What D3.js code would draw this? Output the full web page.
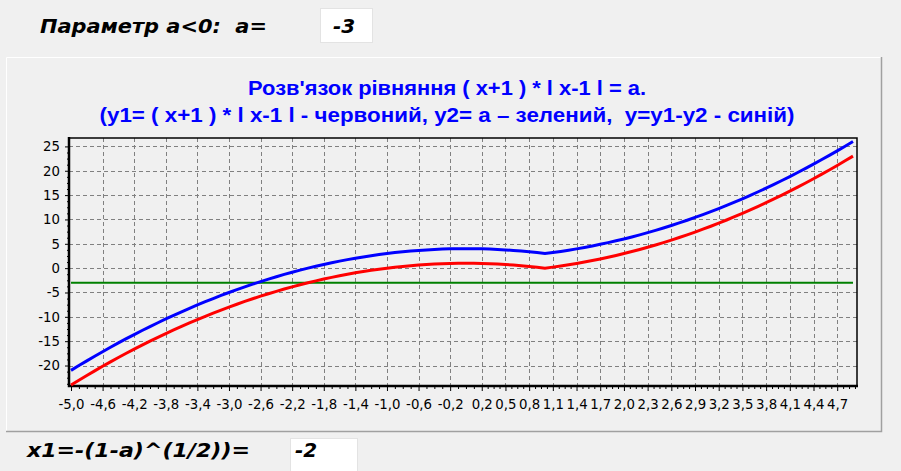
<!DOCTYPE html>
<html>
<head>
<meta charset="utf-8">
<script src="https://cdn.jsdelivr.net/npm/d3@7"></script>
<style>
  body { margin: 0; background: #f0f0f0; }
  svg { display: block; }
  text { white-space: pre; }
  .tick text { font-family: "DejaVu Sans", Verdana, sans-serif; font-size: 13.3px; fill: #000; }
</style>
</head>
<body>
<div id="chart"></div>
<script>
// parametre a et racine affichee
const paramA = -3;
const rootX1 = -2;

// points x (pas de 0,1)
const xValues = [
  -5.0, -4.9, -4.8, -4.7, -4.6, -4.5, -4.4, -4.3, -4.2, -4.1,
  -4.0, -3.9, -3.8, -3.7, -3.6, -3.5, -3.4, -3.3, -3.2, -3.1,
  -3.0, -2.9, -2.8, -2.7, -2.6, -2.5, -2.4, -2.3, -2.2, -2.1,
  -2.0, -1.9, -1.8, -1.7, -1.6, -1.5, -1.4, -1.3, -1.2, -1.1,
  -1.0, -0.9, -0.8, -0.7, -0.6, -0.5, -0.4, -0.3, -0.2, -0.1,
  0.0, 0.1, 0.2, 0.3, 0.4, 0.5, 0.6, 0.7, 0.8, 0.9,
  1.0, 1.1, 1.2, 1.3, 1.4, 1.5, 1.6, 1.7, 1.8, 1.9,
  2.0, 2.1, 2.2, 2.3, 2.4, 2.5, 2.6, 2.7, 2.8, 2.9,
  3.0, 3.1, 3.2, 3.3, 3.4, 3.5, 3.6, 3.7, 3.8, 3.9,
  4.0, 4.1, 4.2, 4.3, 4.4, 4.5, 4.6, 4.7, 4.8, 4.9
];

// y1 = (x+1)*|x-1|  (rouge)
const redValues = [
  -24, -23.01, -22.04, -21.09, -20.16, -19.25, -18.36, -17.49, -16.64, -15.81,
  -15, -14.21, -13.44, -12.69, -11.96, -11.25, -10.56, -9.89, -9.24, -8.61,
  -8, -7.41, -6.84, -6.29, -5.76, -5.25, -4.76, -4.29, -3.84, -3.41,
  -3, -2.61, -2.24, -1.89, -1.56, -1.25, -0.96, -0.69, -0.44, -0.21,
  0, 0.19, 0.36, 0.51, 0.64, 0.75, 0.84, 0.91, 0.96, 0.99,
  1, 0.99, 0.96, 0.91, 0.84, 0.75, 0.64, 0.51, 0.36, 0.19,
  0, 0.21, 0.44, 0.69, 0.96, 1.25, 1.56, 1.89, 2.24, 2.61,
  3, 3.41, 3.84, 4.29, 4.76, 5.25, 5.76, 6.29, 6.84, 7.41,
  8, 8.61, 9.24, 9.89, 10.56, 11.25, 11.96, 12.69, 13.44, 14.21,
  15, 15.81, 16.64, 17.49, 18.36, 19.25, 20.16, 21.09, 22.04, 23.01
];

// y = y1 - y2  (bleu)
const blueValues = [
  -21, -20.01, -19.04, -18.09, -17.16, -16.25, -15.36, -14.49, -13.64, -12.81,
  -12, -11.21, -10.44, -9.69, -8.96, -8.25, -7.56, -6.89, -6.24, -5.61,
  -5, -4.41, -3.84, -3.29, -2.76, -2.25, -1.76, -1.29, -0.84, -0.41,
  0, 0.39, 0.76, 1.11, 1.44, 1.75, 2.04, 2.31, 2.56, 2.79,
  3, 3.19, 3.36, 3.51, 3.64, 3.75, 3.84, 3.91, 3.96, 3.99,
  4, 3.99, 3.96, 3.91, 3.84, 3.75, 3.64, 3.51, 3.36, 3.19,
  3, 3.21, 3.44, 3.69, 3.96, 4.25, 4.56, 4.89, 5.24, 5.61,
  6, 6.41, 6.84, 7.29, 7.76, 8.25, 8.76, 9.29, 9.84, 10.41,
  11, 11.61, 12.24, 12.89, 13.56, 14.25, 14.96, 15.69, 16.44, 17.21,
  18, 18.81, 19.64, 20.49, 21.36, 22.25, 23.16, 24.09, 25.04, 26.01
];

// etiquettes de l'axe x
const xTickLabels = [
  "-5,0", "-4,6", "-4,2", "-3,8", "-3,4", "-3,0", "-2,6", "-2,2", "-1,8", "-1,4",
  "-1,0", "-0,6", "-0,2", "0,2", "0,5", "0,8", "1,1", "1,4", "1,7", "2,0",
  "2,3", "2,6", "2,9", "3,2", "3,5", "3,8", "4,1", "4,4", "4,7"
];
const yTickValues = [-20, -15, -10, -5, 0, 5, 10, 15, 20, 25];

const titleLines = [
  "Розв'язок рівняння ( x+1 ) * l x-1 l = a.",
  "(y1= ( x+1 ) * l x-1 l - червоний, y2= a – зелений,  y=y1-y2 - синій)"
];

const W = 901, H = 471;
const plot = { left: 69, right: 857, top: 138, bottom: 386 };

const svg = d3.select("#chart").append("svg")
  .attr("width", W).attr("height", H);

// fond
svg.append("rect").attr("width", W).attr("height", H).attr("fill", "#f0f0f0");

// panneau du graphique
svg.append("path").attr("d", "M6.5,432 V57.5 H882").attr("fill", "none").attr("stroke", "#ffffff");
svg.append("path").attr("d", "M6,431.5 H881.5 V57").attr("fill", "none").attr("stroke", "#a0a0a0").attr("stroke-width", 1.5);

// ligne du haut : parametre
const italic = "\"DejaVu Sans\", Verdana, sans-serif";
svg.append("text").attr("x", 40).attr("y", 33)
  .attr("font-family", italic).attr("font-weight", "bold").attr("font-style", "italic")
  .attr("font-size", 20).attr("textLength", 227).attr("lengthAdjust", "spacingAndGlyphs")
  .text("Параметр a<0:  a=");
svg.append("rect").attr("x", 320.5).attr("y", 8.5).attr("width", 52).attr("height", 34)
  .attr("fill", "#fff").attr("stroke", "#e3e3e3");
svg.append("text").attr("x", 333).attr("y", 33)
  .attr("font-family", italic).attr("font-weight", "bold").attr("font-style", "italic")
  .attr("font-size", 20).text(paramA);

// ligne du bas : x1
svg.append("text").attr("x", 27).attr("y", 457)
  .attr("font-family", italic).attr("font-weight", "bold").attr("font-style", "italic")
  .attr("font-size", 20).attr("textLength", 223).attr("lengthAdjust", "spacingAndGlyphs")
  .text("x1=-(1-a)^(1/2))=");
svg.append("rect").attr("x", 290.5).attr("y", 438.5).attr("width", 67).attr("height", 40)
  .attr("fill", "#fff").attr("stroke", "#e3e3e3");
svg.append("text").attr("x", 295).attr("y", 457)
  .attr("font-family", italic).attr("font-weight", "bold").attr("font-style", "italic")
  .attr("font-size", 20).text(rootX1);

// titre
svg.selectAll(".title").data(titleLines).enter().append("text")
  .attr("class", "title")
  .attr("x", 447).attr("y", (d, i) => 95 + i * 27)
  .attr("text-anchor", "middle")
  .attr("font-family", "\"Liberation Sans Narrow\", \"Liberation Sans\", Arial, sans-serif")
  .attr("font-weight", "bold").attr("font-size", 19.5).attr("fill", "#0000ff")
  .attr("textLength", (d, i) => i === 0 ? 398 : 695)
  .attr("lengthAdjust", "spacingAndGlyphs")
  .text(d => d);

// echelles
const x = d3.scaleLinear().domain([-5, 4.9]).range([71, 853]);
const y = d3.scaleLinear().domain([-24, 26.01]).range([385, 141.5]);

const xTickValues = xTickLabels.map(s => +s.replace(",", "."));
const labelOf = v => xTickLabels[xTickValues.indexOf(v)];

// graduations mineures (3 entre deux majeures)
function minors(vals) {
  const out = [];
  for (let i = 0; i < vals.length - 1; i++) {
    const step = (vals[i + 1] - vals[i]) / 4;
    for (let k = 1; k <= 3; k++) out.push(vals[i] + k * step);
  }
  return out;
}
const yMinor = minors([-25].concat(yTickValues)).filter(v => v >= -24.3);
const xMinor = minors(xTickValues.concat([5.0])).filter(v => v <= 4.95);

// grille
const grid = svg.append("g").attr("stroke", "#808080").attr("stroke-dasharray", "4,3");
grid.selectAll(".gy").data(yTickValues).enter().append("line")
  .attr("x1", plot.left).attr("x2", plot.right)
  .attr("y1", d => Math.round(y(d)) + 0.5).attr("y2", d => Math.round(y(d)) + 0.5);
grid.selectAll(".gx").data(xTickValues.slice(1)).enter().append("line")
  .attr("y1", plot.top).attr("y2", plot.bottom)
  .attr("x1", d => Math.round(x(d)) + 0.5).attr("x2", d => Math.round(x(d)) + 0.5);

// cadre
svg.append("rect").attr("x", plot.left).attr("y", plot.top)
  .attr("width", plot.right - plot.left).attr("height", plot.bottom - plot.top)
  .attr("fill", "none").attr("stroke", "#000").attr("stroke-width", 1.5);

// axe y
const yAxis = svg.append("g").attr("transform", `translate(${plot.left},0)`)
  .call(d3.axisLeft(y).tickValues(yTickValues).tickSize(4).tickPadding(5).tickFormat(d => d));
yAxis.select(".domain").remove();
svg.append("g").attr("transform", `translate(${plot.left},0)`)
  .call(d3.axisLeft(y).tickValues(yMinor).tickSize(2).tickFormat(""))
  .select(".domain").remove();

// axe x
const xAxis = svg.append("g").attr("transform", `translate(0,${plot.bottom})`)
  .call(d3.axisBottom(x).tickValues(xTickValues).tickSize(5).tickPadding(9).tickFormat(labelOf));
xAxis.select(".domain").remove();
svg.append("g").attr("transform", `translate(0,${plot.bottom})`)
  .call(d3.axisBottom(x).tickValues(xMinor).tickSize(3).tickFormat(""))
  .select(".domain").remove();

// axes epais gauche et bas
svg.append("path").attr("d", `M${plot.left},${plot.top - 1} V${plot.bottom} H${plot.right + 1}`)
  .attr("fill", "none").attr("stroke", "#000").attr("stroke-width", 2.5);

// courbes
const line = d3.line().x(d => x(d[0])).y(d => y(d[1]));

svg.append("path")
  .datum([[xValues[0], paramA], [xValues[xValues.length - 1], paramA]])
  .attr("d", line).attr("fill", "none").attr("stroke", "#008000").attr("stroke-width", 2);

svg.append("path")
  .datum(xValues.map((v, i) => [v, redValues[i]]))
  .attr("d", line).attr("fill", "none").attr("stroke", "#ff0000").attr("stroke-width", 3);

svg.append("path")
  .datum(xValues.map((v, i) => [v, blueValues[i]]))
  .attr("d", line).attr("fill", "none").attr("stroke", "#0000ff").attr("stroke-width", 3);
</script>
</body>
</html>
